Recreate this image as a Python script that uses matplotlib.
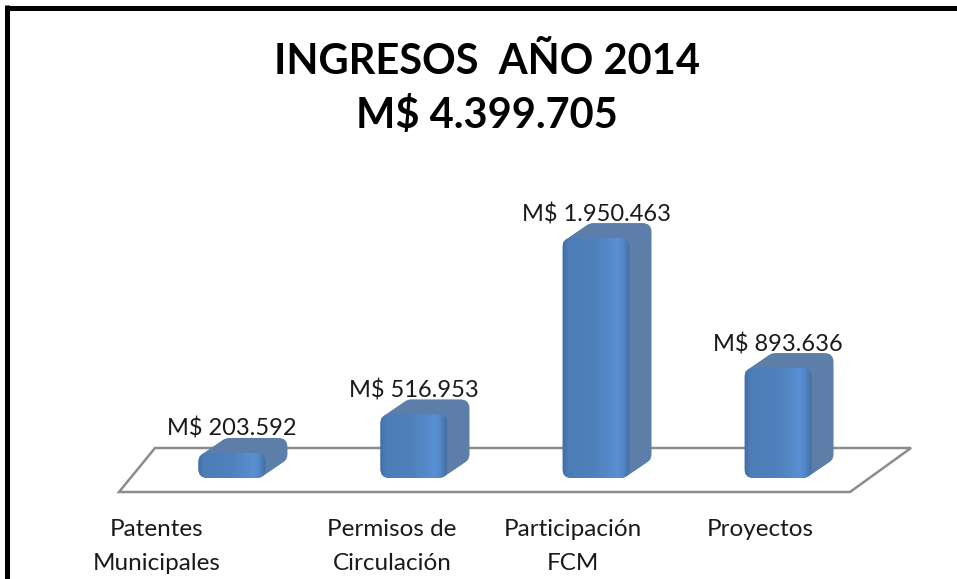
import matplotlib
matplotlib.use('Agg')
import matplotlib.pyplot as plt
from matplotlib.patches import FancyBboxPatch, Polygon
from matplotlib.lines import Line2D
import numpy as np

categories = ["Patentes\nMunicipales", "Permisos de\nCirculación", "Participación\nFCM", "Proyectos"]
values = [203592, 516953, 1950463, 893636]
value_labels = ["M$ 203.592", "M$ 516.953", "M$ 1.950.463", "M$ 893.636"]
title_lines = ["INGRESOS  AÑO 2014", "M$ 4.399.705"]

# ---- layout (pixels) ----
W, H = 957, 579
FONT = ['Lato', 'DejaVu Sans']
plt.rcParams['font.family'] = FONT

fig = plt.figure(figsize=(W / 100, H / 100), dpi=100)
fig.patch.set_facecolor('white')

ax_l, ax_r, ax_b, ax_t = 118, 912, 493, 200
ax = fig.add_axes([ax_l / W, 1 - ax_b / H, (ax_r - ax_l) / W, (ax_b - ax_t) / H])
xlim = (-0.626, 3.736)
ylim = (-122000, 2260000)
ax.set_xlim(*xlim)
ax.set_ylim(*ylim)
ax.axis('off')

px_x = (xlim[1] - xlim[0]) / (ax_r - ax_l)
px_y = (ylim[1] - ylim[0]) / (ax_b - ax_t)

bar_w = 67 * px_x
dx, dy = 22 * px_x, 15 * px_y
rad = 9 * px_x
aspect = px_y / px_x

front_col = '#4f81bd'
depth_col = '#5c7ea8'
floor_col = '#8c8c8c'

# floor
y_back = 30 * px_y
y_front = ylim[0] + 1 * px_y
floor = Polygon([(xlim[0] + 1 * px_x, y_front), (xlim[0] + 37 * px_x, y_back),
                 (xlim[1] - 1 * px_x, y_back), (xlim[1] - 62 * px_x, y_front)],
                closed=True, facecolor='white', edgecolor=floor_col, lw=1.8,
                clip_on=False, zorder=1)
ax.add_patch(floor)

# bars (extruded rounded boxes)
n_steps = 14
for i, v in enumerate(values):
    x0 = i - bar_w / 2
    for k in range(n_steps, 0, -1):
        t = k / n_steps
        p = FancyBboxPatch((x0 + dx * t, dy * t), bar_w, v,
                           boxstyle=f"round,pad=0,rounding_size={rad}",
                           mutation_aspect=aspect, facecolor=depth_col,
                           edgecolor='none', zorder=2)
        ax.add_patch(p)
    front = FancyBboxPatch((x0, 0), bar_w, v,
                           boxstyle=f"round,pad=0,rounding_size={rad}",
                           mutation_aspect=aspect, facecolor=front_col,
                           edgecolor='none', zorder=3)
    ax.add_patch(front)
    # subtle horizontal shading on the front face
    grad = np.linspace(0, 1, 200)
    shade = np.interp(grad, [0, 0.08, 0.5, 0.82, 0.9, 1.0],
                      [0.85, 0.97, 1.0, 1.12, 1.05, 0.85])
    base = np.array([0x4f, 0x81, 0xbd]) / 255.0
    img = np.clip(base[None, None, :] * shade[None, :, None], 0, 1)
    im = ax.imshow(img, extent=(x0, x0 + bar_w, 0, v), aspect='auto',
                   zorder=4, interpolation='bilinear')
    im.set_clip_path(front)
    # value label
    ax.text(i, v + dy + 2 * px_y, value_labels[i], ha='center', va='baseline',
            fontsize=17, color='#1a1a1a', zorder=5)

ax.set_xlim(*xlim)
ax.set_ylim(*ylim)

# category labels
label_shift_px = [-75, -22, -23, -18]
for i, lab in enumerate(categories):
    ax.text(i + label_shift_px[i] * px_x, (478 - 519) * px_y, lab,
            ha='center', va='top', fontsize=17.5, color='#1a1a1a',
            linespacing=1.78, clip_on=False)

# title
fig.text(487 / W, 1 - 62 / H, title_lines[0], ha='center', va='center',
         fontsize=30, fontweight='bold', color='black')
fig.text(487 / W, 1 - 116 / H, title_lines[1], ha='center', va='center',
         fontsize=30, fontweight='bold', color='black')

# frame (left and top edges visible)
fig.add_artist(Line2D([7.5 / W, 7.5 / W], [0, 1 - 5 / H], transform=fig.transFigure,
                      color='black', lw=3.6, solid_capstyle='butt'))
fig.add_artist(Line2D([5 / W, 1], [1 - 7.5 / H, 1 - 7.5 / H], transform=fig.transFigure,
                      color='black', lw=3.6, solid_capstyle='butt'))

fig.savefig('out.png', dpi=100, facecolor='white')
